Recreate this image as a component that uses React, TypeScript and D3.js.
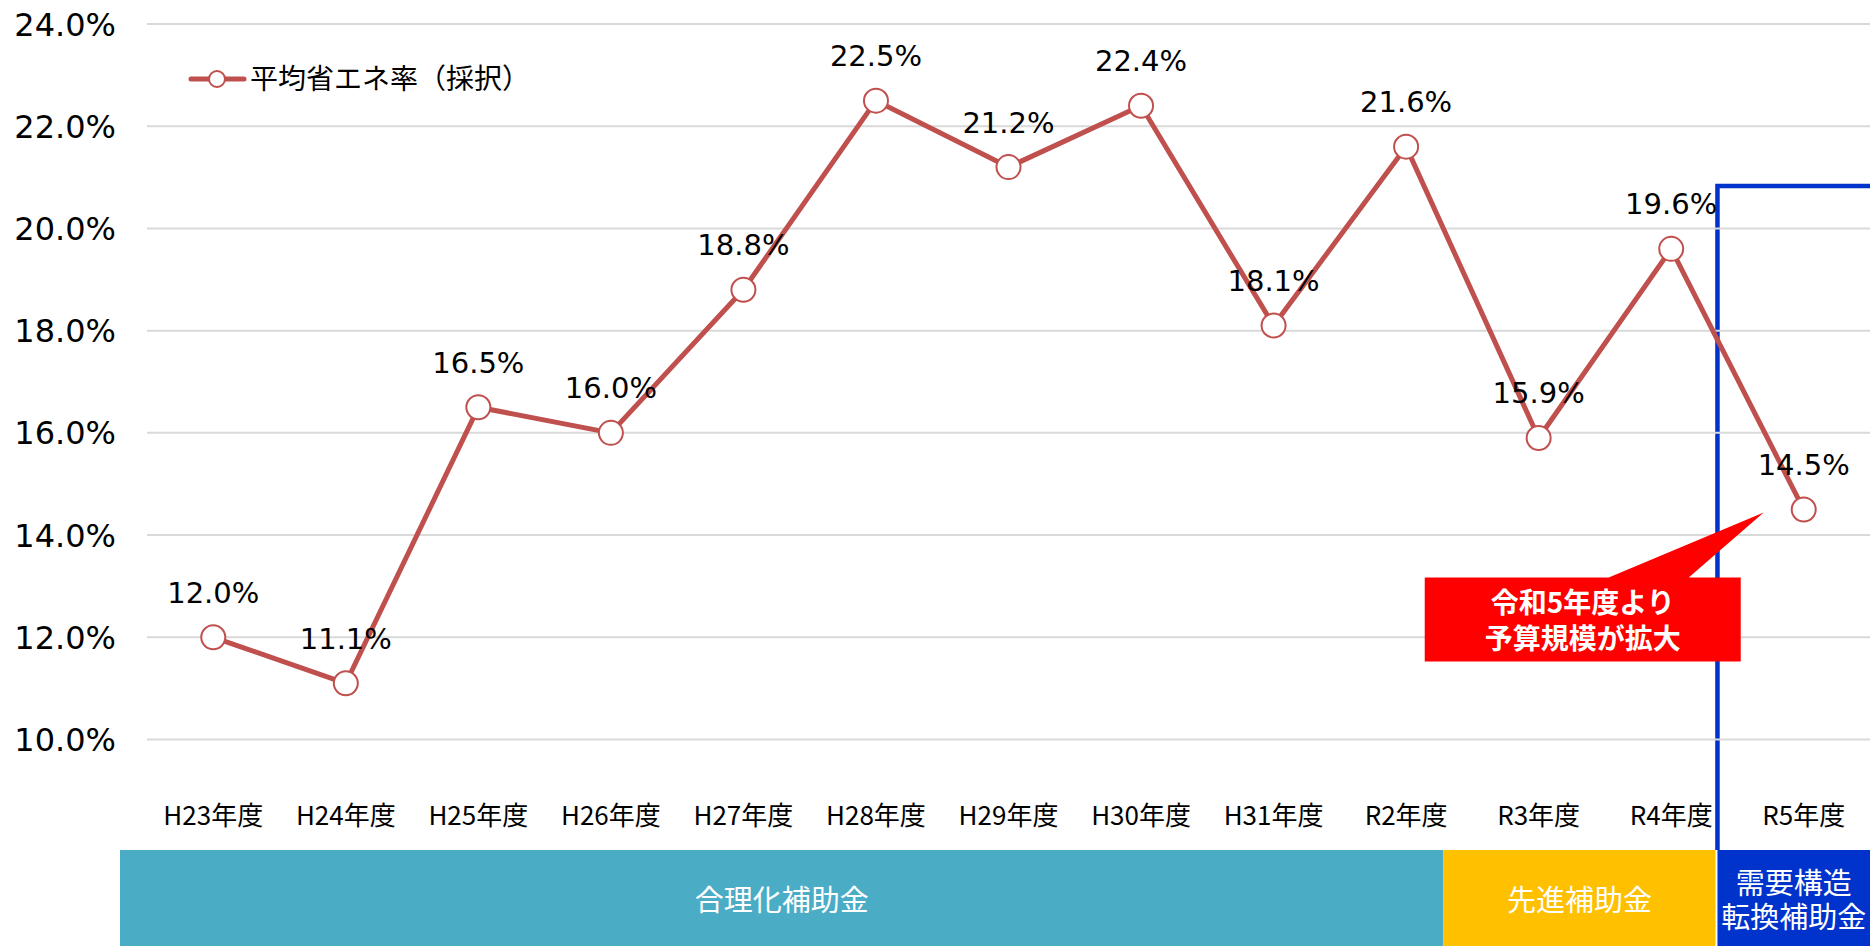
import React from 'react';
import * as d3 from 'd3';

const categories = ['H23年度', 'H24年度', 'H25年度', 'H26年度', 'H27年度', 'H28年度', 'H29年度', 'H30年度', 'H31年度', 'R2年度', 'R3年度', 'R4年度', 'R5年度'];
const values = [12.0, 11.1, 16.5, 16.0, 18.8, 22.5, 21.2, 22.4, 18.1, 21.6, 15.9, 19.6, 14.5];
const yTicks = [10, 12, 14, 16, 18, 20, 22, 24];
const seriesName = '平均省エネ率（採択）';
const programNames = [['合理化補助金'], ['先進補助金'], ['需要構造', '転換補助金']];
const programColors = ['#4BACC6', '#FFC000', '#0033CC'];
const calloutLines = ['令和5年度より', '予算規模が拡大'];

const W = 1870;
const H = 946;
const NUM_FONT = '"DejaVu Sans", Verdana, sans-serif';
const JP_FONT = '"Noto Sans CJK JP", "Noto Sans", sans-serif';
const LINE_COLOR = '#C0504D';

export default function App() {
  const x = d3.scaleBand<string>().domain(categories).range([147, W]).padding(0);
  const y = d3.scaleLinear().domain([10, 24]).range([739.5, 24]);
  const cx = (i: number) => (x(categories[i]) as number) + x.bandwidth() / 2;
  const line = d3.line<number>().x((_, i) => cx(i)).y((d) => y(d));

  const bandTop = 850;
  const boundaries = [
    (x(categories[0]) as number) - 27,
    (x(categories[10]) as number) - 29,
    (x(categories[12]) as number) - 22,
    W,
  ];
  const blueX = (x(categories[12]) as number) - 20;
  const blueTop = 186;

  const last = values.length - 1;
  const px = cx(last);
  const py = y(values[last]);
  const boxL = px - 379;
  const boxR = px - 63;
  const boxT = py + 68;
  const boxB = py + 152;
  const boxC = (boxL + boxR) / 2;
  const tip = [px - 40, py + 3];

  return (
    <div style={{ position: 'fixed', left: 0, top: 0 }}>
      <svg width={W} height={H} viewBox={`0 0 ${W} ${H}`} style={{ display: 'block', background: '#fff' }}>
        {/* blue outline */}
        <path
          d={`M${blueX},${bandTop} L${blueX},${blueTop} L${W + 5},${blueTop}`}
          fill="none"
          stroke="#0033CC"
          strokeWidth={4.5}
        />
        {/* gridlines */}
        {yTicks.map((t) => (
          <line key={t} x1={147} x2={W} y1={y(t)} y2={y(t)} stroke="#D9D9D9" strokeWidth={2} />
        ))}
        {/* y tick labels */}
        {yTicks.map((t) => (
          <text key={t} x={116} y={y(t)} dy="0.36em" textAnchor="end" fontFamily={NUM_FONT} fontSize={32} fill="#000">
            {d3.format('.1f')(t) + '%'}
          </text>
        ))}
        {/* category labels */}
        {categories.map((c, i) => (
          <text key={c} x={cx(i)} y={816} dy="0.36em" textAnchor="middle" fontFamily={JP_FONT} fontSize={26} fill="#000">
            {c}
          </text>
        ))}
        {/* program bands */}
        {programNames.map((names, k) => {
          const x0 = k === 2 ? blueX : boundaries[k];
          const x1 = k === 1 ? boundaries[2] : boundaries[k + 1];
          const mid = (x0 + x1) / 2;
          const lh = 34;
          const c0 = 901 - ((names.length - 1) * lh) / 2;
          return (
            <g key={k}>
              <rect x={x0} y={bandTop} width={x1 - x0} height={H - bandTop} fill={programColors[k]} />
              {names.map((n, j) => (
                <text key={j} x={mid} y={c0 + j * lh} dy="0.36em" textAnchor="middle" fontFamily={JP_FONT} fontSize={29} fill="#fff">
                  {n}
                </text>
              ))}
            </g>
          );
        })}
        {/* series line */}
        <path d={line(values) || ''} fill="none" stroke={LINE_COLOR} strokeWidth={5} strokeLinejoin="round" />
        {values.map((v, i) => (
          <circle key={i} cx={cx(i)} cy={y(v)} r={12} fill="#fff" stroke={LINE_COLOR} strokeWidth={2} />
        ))}
        {/* data labels */}
        {values.map((v, i) => (
          <text key={i} x={cx(i)} y={y(v) - 45} dy="0.36em" textAnchor="middle" fontFamily={NUM_FONT} fontSize={29} fill="#000">
            {d3.format('.1f')(v) + '%'}
          </text>
        ))}
        {/* legend */}
        <g>
          <line x1={191} x2={244} y1={79} y2={79} stroke={LINE_COLOR} strokeWidth={5} strokeLinecap="round" />
          <circle cx={217} cy={79} r={8} fill="#fff" stroke={LINE_COLOR} strokeWidth={2} />
          <text x={250} y={79} dy="0.36em" fontFamily={JP_FONT} fontSize={28} fill="#000">
            {seriesName}
          </text>
        </g>
        {/* callout */}
        <g>
          <path
            d={`M${boxL},${boxT} L${boxC + 26},${boxT} L${tip[0]},${tip[1]} L${boxC + 106},${boxT} L${boxR},${boxT} L${boxR},${boxB} L${boxL},${boxB} Z`}
            fill="#FF0000"
          />
          {calloutLines.map((l, j) => (
            <text key={j} x={boxC} y={boxT + 25 + j * 36} dy="0.36em" textAnchor="middle" fontFamily={JP_FONT} fontWeight={700} fontSize={28} fill="#fff">
              {l}
            </text>
          ))}
        </g>
      </svg>
    </div>
  );
}
